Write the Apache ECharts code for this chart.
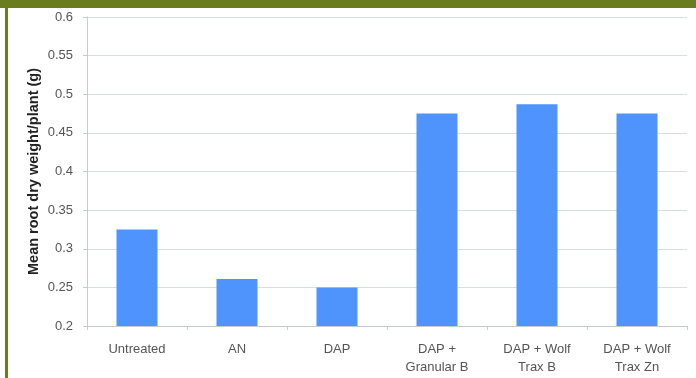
<!DOCTYPE html>
<html>
<head>
<meta charset="utf-8">
<script src="https://cdn.jsdelivr.net/npm/echarts@6/dist/echarts.min.js"></script>
<style>
html,body{margin:0;padding:0;background:#fff;}
#c{width:696px;height:378px;}
</style>
</head>
<body>
<div id="c"></div>
<script>
const categories = ['Untreated', 'AN', 'DAP', 'DAP +\nGranular B', 'DAP + Wolf\nTrax B', 'DAP + Wolf\nTrax Zn'];
const rootWeight = [0.325, 0.261, 0.25, 0.475, 0.487, 0.475];
const yTitle = 'Mean root dry weight/plant (g)';

const chart = echarts.init(document.getElementById('c'), null, {renderer: 'canvas'});
chart.setOption({
  animation: false,
  backgroundColor: '#ffffff',
  grid: {left: 87, right: 9, top: 17, bottom: 52, containLabel: false},
  graphic: [
    {type: 'rect', shape: {x: 0, y: 0, width: 696, height: 8}, style: {fill: '#6a7d1e'}, silent: true},
    {type: 'rect', shape: {x: 5, y: 0, width: 3, height: 378}, style: {fill: '#6a7d1e'}, silent: true}
  ],
  xAxis: {
    type: 'category',
    data: categories,
    boundaryGap: true,
    axisLine: {show: true, lineStyle: {color: '#c4cccc', width: 1}},
    axisTick: {show: true, length: 4, alignWithLabel: false, lineStyle: {color: '#c4cccc'}},
    axisLabel: {color: '#555555', fontFamily: 'Liberation Sans', fontSize: 13, lineHeight: 18, margin: 14, interval: 0}
  },
  yAxis: {
    type: 'value',
    min: 0.2, max: 0.6, interval: 0.05,
    name: yTitle,
    nameLocation: 'middle',
    nameGap: 46,
    nameMoveOverlap: false,
    nameTextStyle: {color: '#222222', fontFamily: 'Liberation Sans', fontSize: 14.5, fontWeight: 'bold'},
    axisLine: {show: true, lineStyle: {color: '#c4cccc', width: 1}},
    axisTick: {show: true, length: 4, lineStyle: {color: '#c4cccc'}},
    axisLabel: {color: '#555555', fontFamily: 'Liberation Sans', fontSize: 13, margin: 14},
    splitLine: {show: true, lineStyle: {color: '#d8dfdf', width: 1}}
  },
  series: [{
    type: 'bar',
    data: rootWeight,
    barWidth: '41%',
    itemStyle: {color: '#4f94fc'}
  }]
});
</script>
</body>
</html>
